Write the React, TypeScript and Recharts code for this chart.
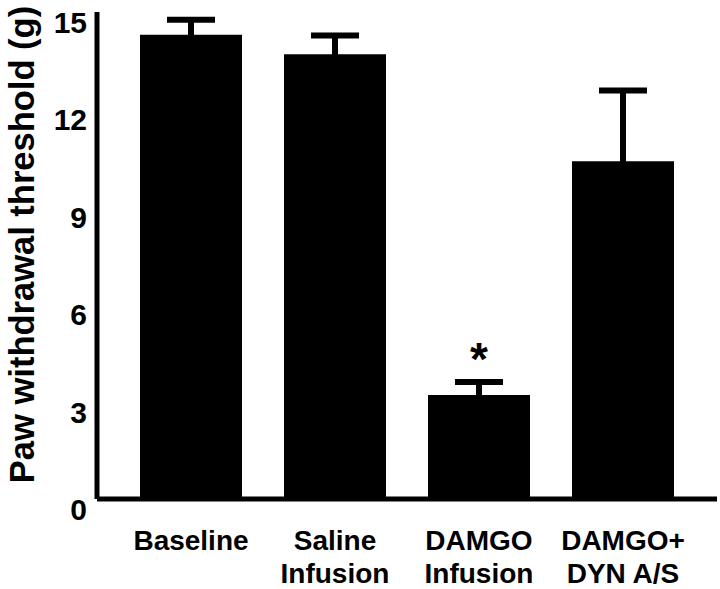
import React from 'react';
import {
  BarChart,
  Bar,
  XAxis,
  YAxis,
  ErrorBar,
  LabelList,
  Label,
} from 'recharts';

// groups along the x axis (line breaks split the two-line labels)
const groups = ['Baseline', 'Saline\nInfusion', 'DAMGO\nInfusion', 'DAMGO+\nDYN A/S'];
// mean paw withdrawal threshold (g)
const means = [14.3, 13.7, 3.2, 10.4];
// SEM
const sems = [0.46, 0.58, 0.4, 2.18];
// significance marks
const marks = ['', '', '*', ''];

const yTicks = [0, 3, 6, 9, 12, 15];

const data = groups.map((g, i) => ({
  name: g,
  value: means[i],
  err: sems[i],
  mark: marks[i],
}));

const FONT = '"Liberation Sans", Arial, Helvetica, sans-serif';

function XTick(props: any) {
  const { x, y, payload } = props;
  const lines = String(payload.value).split('\n');
  return (
    <text
      x={x}
      y={y}
      textAnchor="middle"
      fontFamily={FONT}
      fontWeight="bold"
      fontSize={28}
      fill="#000"
    >
      {lines.map((line, i) => (
        <tspan key={i} x={x} y={y + 51 + i * 33}>
          {line}
        </tspan>
      ))}
    </text>
  );
}

function YTick(props: any) {
  const { x, y, payload } = props;
  return (
    <text
      x={x}
      y={y + 21}
      textAnchor="end"
      fontFamily={FONT}
      fontWeight="bold"
      fontSize={30}
      fill="#000"
    >
      {payload.value}
    </text>
  );
}

function YTitle(props: any) {
  const { viewBox } = props;
  const cx = viewBox.x + 34;
  const cy = viewBox.y + viewBox.height / 2 - 11;
  return (
    <text
      x={cx}
      y={cy}
      textAnchor="middle"
      transform={`rotate(-90, ${cx}, ${cy})`}
      fontFamily={FONT}
      fontWeight="bold"
      fontSize={34.5}
      fill="#000"
    >
      Paw withdrawal threshold (g)
    </text>
  );
}

function Star(props: any) {
  const { x, y, width, value } = props;
  if (!value) return null;
  return (
    <text
      x={x + width / 2}
      y={y - 20}
      textAnchor="middle"
      fontFamily={FONT}
      fontWeight="bold"
      fontSize={46}
      fill="#000"
    >
      {value}
    </text>
  );
}

export default function App() {
  return (
    <div style={{ position: 'absolute', left: 0, top: 0, background: '#fff' }}>
      <BarChart
        width={720}
        height={589}
        data={data}
        margin={{ top: 12, right: 3, bottom: 0, left: 0 }}
      >
        <XAxis
          dataKey="name"
          interval={0}
          padding={{ left: 22, right: 22 }}
          axisLine={{ stroke: '#000', strokeWidth: 5 }}
          tickLine={false}
          tickSize={0}
          tickMargin={0}
          tick={<XTick />}
          height={90}
        />
        <YAxis
          domain={[0, 15]}
          ticks={yTicks}
          width={97}
          axisLine={{ stroke: '#000', strokeWidth: 5 }}
          tickLine={false}
          tickSize={0}
          tickMargin={10}
          tick={<YTick />}
        >
          <Label content={<YTitle />} />
        </YAxis>
        <Bar dataKey="value" fill="#000" barSize={102} isAnimationActive={false}>
          <ErrorBar
            dataKey="err"
            direction="y"
            width={24}
            strokeWidth={6}
            stroke="#000"
            isAnimationActive={false}
          />
          <LabelList dataKey="mark" content={<Star />} />
        </Bar>
      </BarChart>
    </div>
  );
}
